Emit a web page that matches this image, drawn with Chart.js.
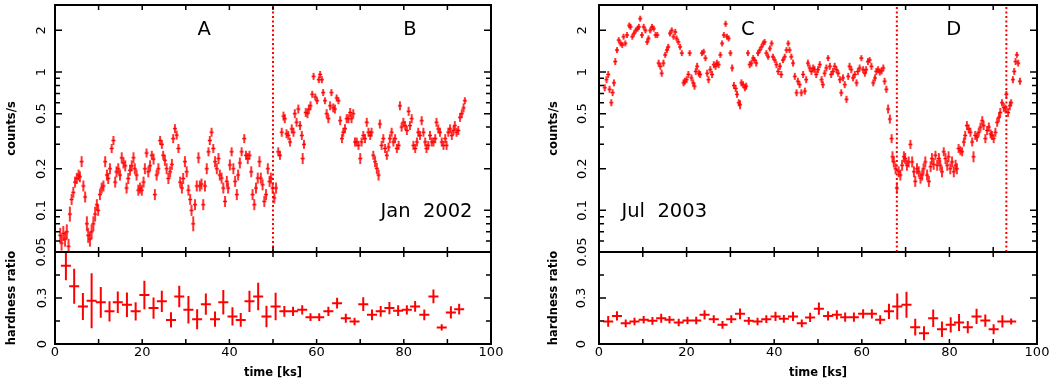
<!DOCTYPE html>
<html>
<head>
<meta charset="utf-8">
<script src="https://cdn.jsdelivr.net/npm/chart.js@4.4.0/dist/chart.umd.min.js"></script>
<style>
  body { margin: 0; background: #fff; }
  #wrap { position: relative; width: 1049px; height: 380px; overflow: hidden; background: #fff; }
  canvas { position: absolute; }
</style>
</head>
<body>
<div id="wrap">
  <canvas id="janTop" width="511" height="270" style="left:0;top:0"></canvas>
  <canvas id="janHr" width="511" height="140" style="left:0;top:240px"></canvas>
  <canvas id="julTop" width="517" height="270" style="left:540px;top:0"></canvas>
  <canvas id="julHr" width="517" height="140" style="left:540px;top:240px"></canvas>
</div>
<script>
// ---- data ----
const janTime = [1.2,1.5,1.9,2.3,2.7,3.1,3.4,3.8,4.2,4.6,5.0,5.4,5.7,6.1,6.5,6.9,7.3,7.6,8.0,8.4,8.8,9.2,9.6,9.9,
  10.3,10.7,11.1,11.5,11.9,12.2,12.6,13.0,13.4,13.8,14.1,14.5,14.9,15.3,15.7,16.1,16.4,16.8,17.2,17.6,18.0,18.3,18.7,
  19.1,19.5,19.9,20.3,20.6,21.0,21.4,21.8,22.2,22.6,22.9,23.3,23.7,24.1,24.5,24.8,25.2,25.6,26.0,26.4,26.8,27.1,27.5,
  27.9,28.3,28.7,29.1,29.4,29.8,30.2,30.6,31.0,31.3,31.7,32.1,32.5,32.9,33.2,33.6,34.0,34.4,34.8,35.2,35.5,35.9,36.3,
  36.7,37.1,37.5,37.8,38.2,38.6,39.0,39.4,39.7,40.1,40.5,40.9,41.3,41.7,42.0,42.4,42.8,43.4,43.8,44.2,44.6,45.0,45.3,
  45.7,46.1,46.5,46.9,47.2,47.6,48.0,48.4,48.8,49.2,49.5,49.9,50.3,50.7,51.2,51.6,52.0,52.4,52.7,53.1,53.5,53.9,54.3,
  54.7,55.0,55.4,55.8,56.2,56.6,56.8,57.1,57.5,57.9,58.2,58.6,59.0,59.3,59.7,60.1,60.5,60.8,61.2,61.5,61.9,62.3,62.7,
  63.1,63.4,63.8,64.2,64.6,65.0,65.4,65.8,66.1,66.5,66.9,67.3,67.7,68.0,68.4,68.8,69.2,69.6,70.0,70.3,70.7,71.1,71.5,
  71.9,72.3,72.6,73.0,73.4,73.8,74.2,74.5,74.9,75.3,75.7,76.1,76.5,76.8,77.2,77.6,78.0,78.4,78.8,79.1,79.5,79.9,80.3,
  80.7,81.1,81.4,81.8,82.2,82.6,83.0,83.3,83.7,84.1,84.5,84.9,85.2,85.6,86.0,86.4,86.8,87.2,87.5,87.9,88.3,88.7,89.1,
  89.5,89.8,90.2,90.6,91.0,91.4,91.7,92.1,92.5,92.9,93.3,93.7,94.0];
const janRate = [0.066,0.058,0.068,0.062,0.07,0.055,0.094,0.12,0.135,0.16,0.17,0.18,0.175,0.225,0.15,0.125,0.08,0.066,0.062,0.07,0.08,0.094,0.11,0.1,
  0.13,0.145,0.15,0.225,0.18,0.17,0.2,0.28,0.32,0.16,0.19,0.2,0.18,0.24,0.22,0.21,0.145,0.17,0.195,0.21,0.24,0.2,0.18,
  0.14,0.145,0.14,0.16,0.2,0.26,0.19,0.21,0.25,0.235,0.13,0.18,0.2,0.32,0.3,0.25,0.23,0.2,0.17,0.19,0.215,0.33,0.39,
  0.35,0.28,0.16,0.145,0.17,0.225,0.19,0.14,0.12,0.1,0.08,0.11,0.15,0.24,0.15,0.155,0.11,0.15,0.2,0.265,0.32,0.367,0.28,
  0.225,0.2,0.237,0.18,0.171,0.145,0.116,0.162,0.145,0.213,0.265,0.2,0.162,0.13,0.18,0.22,0.265,0.33,0.25,0.237,0.25,0.19,0.13,
  0.11,0.145,0.171,0.225,0.171,0.153,0.116,0.13,0.2,0.162,0.171,0.145,0.123,0.145,0.265,0.25,0.367,0.48,0.46,0.358,0.348,0.312,0.388,
  0.367,0.5,0.433,0.54,0.41,0.348,0.237,0.3,0.51,0.5,0.54,0.57,0.69,0.93,0.66,0.62,0.88,0.96,0.88,0.71,0.62,0.5,0.46,
  0.57,0.71,0.55,0.54,0.65,0.62,0.445,0.33,0.367,0.39,0.46,0.46,0.51,0.46,0.5,0.312,0.312,0.295,0.237,0.312,0.348,0.33,0.433,
  0.367,0.348,0.367,0.25,0.225,0.201,0.18,0.421,0.295,0.33,0.28,0.25,0.287,0.33,0.367,0.312,0.33,0.28,0.295,0.57,0.4,0.433,0.41,
  0.378,0.52,0.41,0.46,0.295,0.28,0.312,0.367,0.348,0.445,0.367,0.312,0.28,0.295,0.348,0.312,0.312,0.33,0.433,0.388,0.367,0.312,0.295,
  0.33,0.295,0.367,0.388,0.348,0.378,0.41,0.367,0.378,0.47,0.5,0.55,0.62];

const julTime = [1.3,1.7,2.1,2.4,2.8,3.1,3.4,3.7,4.1,4.5,4.9,5.3,5.6,6.0,6.4,6.9,7.2,7.6,8.0,8.4,8.8,9.1,9.4,9.8,
  10.2,10.6,11.0,11.3,11.7,12.1,12.5,12.9,13.3,13.6,14.0,14.3,14.7,15.1,15.5,15.8,16.2,16.6,17.0,17.4,17.7,18.1,18.5,
  18.9,19.3,19.6,20.0,20.4,20.7,21.1,21.5,21.8,22.1,22.4,22.8,23.1,23.5,23.9,24.3,24.7,25.0,25.4,25.8,26.2,26.6,26.9,
  27.3,27.7,28.1,28.5,28.9,29.2,29.6,30.0,30.4,30.8,31.2,31.5,31.9,32.2,32.5,32.9,33.3,33.6,34.0,34.4,34.8,35.2,35.5,
  35.9,36.3,36.7,37.1,37.5,37.8,38.2,38.6,39.0,39.4,39.7,40.1,40.5,40.9,41.3,41.6,42.0,42.4,42.8,43.2,43.5,43.9,44.3,
  44.7,45.1,45.4,45.8,46.2,46.6,47.0,47.3,47.7,48.1,48.5,48.9,49.2,49.6,50.0,50.4,50.8,51.1,51.5,51.9,52.3,52.7,53.0,
  53.4,53.8,54.2,54.6,55.0,55.3,55.7,56.1,56.5,56.9,57.2,57.6,58.0,58.4,58.8,59.1,59.5,59.9,60.3,60.7,61.0,61.4,61.8,
  62.2,62.6,63.0,63.3,63.7,64.1,64.5,64.9,65.2,65.6,66.0,66.4,66.8,67.0,67.3,67.7,68.0,68.4,68.8,69.2,69.6,69.9,70.3,
  70.7,71.1,71.5,71.9,72.2,72.6,73.0,73.4,73.8,74.1,74.5,74.9,75.3,75.7,76.0,76.4,76.8,77.2,77.6,77.9,78.3,78.7,79.1,
  79.5,79.8,80.2,80.6,81.0,81.4,81.7,82.1,82.5,82.9,83.3,83.6,84.0,84.4,84.8,85.2,85.5,85.9,86.3,86.7,87.1,87.5,87.8,
  88.2,88.6,89.0,89.4,89.7,90.1,90.5,90.9,91.3,91.6,92.0,92.4,92.8,93.0,93.4,93.8,94.1,94.5,94.8,95.1,95.4,95.7,96.1];
const julRate = [0.77,0.88,0.96,0.75,0.6,0.71,0.835,1.19,1.44,1.7,1.61,1.57,1.8,1.61,1.85,2.17,2.12,1.8,1.9,2.0,2.06,2.12,2.43,1.85,
  2.12,2.0,1.65,1.75,2.0,2.12,2.06,1.85,1.85,1.16,1.1,0.98,1.16,1.33,1.44,1.52,1.9,2.0,1.8,1.95,1.75,1.65,1.52,
  1.37,0.835,0.858,0.88,0.96,1.37,0.906,0.835,0.79,1.01,1.1,0.98,0.96,1.37,1.4,1.26,0.98,0.88,1.04,0.96,1.13,1.1,1.16,
  1.13,1.33,1.61,1.85,2.23,1.8,1.75,1.37,1.07,0.8,0.76,0.69,0.6,0.58,0.835,0.81,0.77,0.79,1.37,1.13,1.16,1.26,1.22,
  1.16,1.37,1.44,1.52,1.61,1.65,1.37,1.29,1.48,1.61,1.29,1.22,1.13,1.01,1.1,0.96,1.22,1.29,1.44,1.61,1.44,1.29,1.16,
  0.93,0.708,0.858,0.81,0.708,0.96,0.728,0.88,1.16,1.07,1.01,1.07,1.04,0.96,1.04,1.13,0.88,0.81,0.98,1.07,1.26,1.1,0.96,
  1.01,1.1,1.04,0.98,0.88,0.708,0.906,0.81,0.635,0.93,1.1,1.04,0.906,0.96,0.835,1.01,1.07,1.26,1.04,0.98,1.04,1.19,1.22,
  1.1,0.835,0.906,1.01,1.04,1.0,1.02,1.07,0.858,0.75,0.54,0.457,0.33,0.244,0.224,0.2,0.145,0.19,0.18,0.212,0.244,0.237,0.212,
  0.224,0.3,0.224,0.19,0.162,0.2,0.19,0.171,0.18,0.2,0.224,0.18,0.162,0.207,0.237,0.215,0.25,0.212,0.237,0.212,0.19,0.265,0.237,
  0.212,0.244,0.2,0.224,0.19,0.212,0.2,0.28,0.27,0.265,0.312,0.348,0.41,0.388,0.367,0.312,0.244,0.348,0.338,0.367,0.4,0.445,0.41,
  0.33,0.378,0.4,0.357,0.348,0.33,0.367,0.433,0.47,0.51,0.6,0.555,0.54,0.69,0.51,0.57,0.6,0.88,1.01,1.19,1.33,1.16,0.858];

const janHrTime = [2.5,4.4,6.4,8.4,10.5,12.5,14.4,16.5,18.5,20.5,22.6,24.5,26.6,28.5,30.6,32.6,34.6,36.7,38.6,40.7,42.6,44.6,46.6,
  48.5,50.6,52.6,54.6,56.7,58.6,60.6,62.7,64.7,66.7,68.7,70.7,72.7,74.7,76.7,78.7,80.7,82.6,84.7,86.8,88.7,90.8,92.7];
const janHr = [0.51,0.376,0.245,0.282,0.272,0.213,0.272,0.256,0.213,0.32,0.234,0.278,0.157,0.31,0.223,0.162,0.26,0.162,0.272,0.18,0.157,0.278,0.31,
  0.18,0.245,0.213,0.213,0.223,0.175,0.175,0.213,0.266,0.168,0.147,0.26,0.19,0.213,0.234,0.217,0.223,0.245,0.19,0.31,0.108,0.206,0.227];
const janHrErr = [0.095,0.114,0.088,0.18,0.1,0.066,0.07,0.08,0.06,0.093,0.07,0.07,0.05,0.07,0.09,0.065,0.07,0.05,0.08,0.06,0.045,0.07,0.09,
  0.07,0.09,0.035,0.03,0.03,0.025,0.025,0.03,0.035,0.03,0.025,0.045,0.035,0.035,0.04,0.035,0.03,0.035,0.035,0.045,0.02,0.04,0.035];

const julHrTime = [2.1,4.1,6.1,8.1,10.2,12.2,14.2,16.1,18.2,20.2,22.2,24.1,26.2,28.2,30.2,32.2,34.2,36.2,38.2,40.3,42.2,44.3,46.3,48.2,
  50.2,52.3,54.3,56.2,58.2,60.3,62.3,64.2,66.2,68.1,70.2,72.2,74.2,76.3,78.3,80.3,82.2,84.2,86.2,88.2,90.1,92.1,94.1];
const julHr = [0.147,0.183,0.135,0.147,0.158,0.151,0.168,0.158,0.14,0.153,0.153,0.19,0.162,0.125,0.162,0.197,0.151,0.147,0.162,0.18,0.164,0.18,0.135,0.173,
  0.23,0.183,0.19,0.175,0.175,0.197,0.197,0.158,0.213,0.245,0.256,0.11,0.07,0.168,0.096,0.125,0.14,0.11,0.18,0.153,0.096,0.147,0.147];
const julHrErr = [0.035,0.03,0.025,0.025,0.025,0.025,0.03,0.025,0.025,0.025,0.025,0.03,0.025,0.025,0.025,0.035,0.025,0.025,0.025,0.03,0.025,0.03,0.025,0.03,
  0.04,0.03,0.03,0.03,0.03,0.03,0.03,0.03,0.05,0.085,0.085,0.055,0.045,0.057,0.05,0.05,0.055,0.04,0.05,0.04,0.033,0.04,0.02];
const hrHalfBin = 1.15;

const janCuts = [50];
const julCuts = [68, 93];

const logTickLabels = [0.05, 0.1, 0.2, 0.5, 1, 2];
const logMinorTicks = [0.06, 0.07, 0.08, 0.09, 0.3, 0.4, 0.6, 0.7, 0.8, 0.9];
const hrTickLabels = [0, 0.3];
const hrMinorTicks = [0.15, 0.45, 0.6];
const xTickLabels = [0, 20, 40, 60, 80, 100];
const xTickMarks = [0, 10, 20, 30, 40, 50, 60, 70, 80, 90, 100];

const janNotes = [{text: 'A', x: 34.2, y: 2.0}, {text: 'B', x: 81.4, y: 2.0}, {text: 'Jan  2002', x: 85.2, y: 0.098}];
const julNotes = [{text: 'C', x: 34.0, y: 2.0}, {text: 'D', x: 81.0, y: 2.0}, {text: 'Jul  2003', x: 14.9, y: 0.098}];

// ---- drawing ----
const RED = '#ff0000';
Chart.defaults.font.family = "'DejaVu Sans', sans-serif";
Chart.defaults.color = '#000';

function makeMarker(h, w) {
    const c = document.createElement('canvas');
    c.width = w + 2;
    c.height = h + 2;
    const g = c.getContext('2d');
    g.strokeStyle = RED;
    g.lineWidth = 1.6;
    g.beginPath();
    g.moveTo(c.width / 2, 1);
    g.lineTo(c.width / 2, h + 1);
    g.moveTo(1, c.height / 2);
    g.lineTo(w + 1, c.height / 2);
    g.stroke();
    return c;
}
const mk15 = makeMarker(15, 4), mk11 = makeMarker(11, 4), mk9 = makeMarker(9, 4), mk7 = makeMarker(7, 4), mk6 = makeMarker(6, 4);

function markerFor(v) {
    if (v < 0.1) return mk15;
    if (v < 0.25) return mk11;
    if (v < 0.6) return mk9;
    if (v < 1.2) return mk7;
    return mk6;
}

function framePlugin(yMajor, yMinor) {
    return {
        id: 'frame',
        afterDatasetsDraw(chart) {
            const {ctx, chartArea: a, scales} = chart;
            const xs = scales.x, ys = scales.y;
            ctx.save();
            ctx.strokeStyle = '#000';
            ctx.lineWidth = 1.5;
            ctx.beginPath();
            xTickMarks.forEach(v => {
                const px = xs.getPixelForValue(v);
                ctx.moveTo(px, a.bottom); ctx.lineTo(px, a.bottom - 5);
                ctx.moveTo(px, a.top); ctx.lineTo(px, a.top + 5);
            });
            yMajor.forEach(v => {
                const py = ys.getPixelForValue(v);
                ctx.moveTo(a.left, py); ctx.lineTo(a.left + 7, py);
                ctx.moveTo(a.right, py); ctx.lineTo(a.right - 7, py);
            });
            yMinor.forEach(v => {
                const py = ys.getPixelForValue(v);
                ctx.moveTo(a.left, py); ctx.lineTo(a.left + 5, py);
                ctx.moveTo(a.right, py); ctx.lineTo(a.right - 5, py);
            });
            ctx.stroke();
            ctx.lineWidth = 2;
            ctx.strokeRect(a.left, a.top, a.right - a.left, a.bottom - a.top);
            ctx.restore();
        }
    };
}

function notesPlugin(notes) {
    return {
        id: 'notes',
        afterDatasetsDraw(chart) {
            const {ctx, scales} = chart;
            ctx.save();
            ctx.fillStyle = '#000';
            ctx.font = "19.5px 'DejaVu Sans'";
            ctx.textAlign = 'center';
            ctx.textBaseline = 'middle';
            notes.forEach(n => {
                ctx.fillText(n.text, scales.x.getPixelForValue(n.x), scales.y.getPixelForValue(n.y));
            });
            ctx.restore();
        }
    };
}

function errorPlugin(time, val, err) {
    return {
        id: 'errbars',
        afterDatasetsDraw(chart) {
            const {ctx, chartArea: a, scales} = chart;
            const xs = scales.x, ys = scales.y;
            ctx.save();
            ctx.beginPath();
            ctx.rect(a.left, a.top, a.right - a.left, a.bottom - a.top);
            ctx.clip();
            ctx.strokeStyle = RED;
            ctx.lineWidth = 2;
            ctx.beginPath();
            time.forEach((t, i) => {
                const px = xs.getPixelForValue(t);
                const py = ys.getPixelForValue(val[i]);
                ctx.moveTo(px, ys.getPixelForValue(val[i] - err[i]));
                ctx.lineTo(px, ys.getPixelForValue(val[i] + err[i]));
                ctx.moveTo(xs.getPixelForValue(t - hrHalfBin), py);
                ctx.lineTo(xs.getPixelForValue(t + hrHalfBin), py);
            });
            ctx.stroke();
            ctx.restore();
        }
    };
}

function topChart(id, time, rate, cuts, notes, yWidth, titlePad, tickPad) {
    const datasets = [{
        data: time.map((t, i) => ({x: t, y: rate[i]})),
        pointStyle: c => (c.raw ? markerFor(c.raw.y) : 'circle'),
        pointRadius: 3,
        showLine: false,
        clip: 0
    }];
    cuts.forEach(c => {
        datasets.push({
            data: [{x: c, y: 0.05}, {x: c, y: 3.05}],
            showLine: true,
            borderColor: RED,
            borderWidth: 2,
            borderDash: [2, 2.5],
            pointRadius: 0,
            clip: 0
        });
    });
    return new Chart(document.getElementById(id), {
        type: 'scatter',
        data: {datasets: datasets},
        options: {
            responsive: false,
            animation: false,
            events: [],
            layout: {padding: {left: 0, right: 20, top: 1, bottom: 18}},
            plugins: {legend: {display: false}, tooltip: {enabled: false}},
            scales: {
                x: {type: 'linear', display: false, min: 0, max: 100},
                y: {
                    type: 'logarithmic', min: 0.05, max: 3.05,
                    grid: {display: false, drawTicks: false},
                    border: {display: false},
                    afterBuildTicks: s => { s.ticks = logTickLabels.map(v => ({value: v})); },
                    afterFit: s => { s.width = yWidth; s.paddingTop = 0; s.paddingBottom = 0; },
                    ticks: {
                        autoSkip: false, minRotation: 90, maxRotation: 90, crossAlign: 'center',
                        padding: tickPad, font: {size: 13}, callback: v => String(v)
                    },
                    title: {display: true, text: 'counts/s', font: {size: 11.5, weight: 'bold'}, padding: {top: titlePad, bottom: 0}}
                }
            }
        },
        plugins: [framePlugin(logTickLabels, logMinorTicks), notesPlugin(notes)]
    });
}

function hrChart(id, time, val, err, yWidth, titlePad, tickPad) {
    return new Chart(document.getElementById(id), {
        type: 'scatter',
        data: {datasets: [{data: time.map((t, i) => ({x: t, y: val[i]})), pointRadius: 0}]},
        options: {
            responsive: false,
            animation: false,
            events: [],
            layout: {padding: {left: 0, right: 20, top: 12, bottom: 0}},
            plugins: {legend: {display: false}, tooltip: {enabled: false}},
            scales: {
                x: {
                    type: 'linear', min: 0, max: 100,
                    grid: {display: false, drawTicks: false},
                    border: {display: false},
                    afterBuildTicks: s => { s.ticks = xTickLabels.map(v => ({value: v})); },
                    afterFit: s => { s.height = 36; s.paddingLeft = 0; s.paddingRight = 0; },
                    ticks: {autoSkip: false, maxRotation: 0, padding: 1, font: {size: 13}},
                    title: {display: true, text: 'time [ks]', font: {size: 11.5, weight: 'bold'}, padding: {top: 0, bottom: 0}}
                },
                y: {
                    type: 'linear', min: 0, max: 0.6,
                    grid: {display: false, drawTicks: false},
                    border: {display: false},
                    afterBuildTicks: s => { s.ticks = hrTickLabels.map(v => ({value: v})); },
                    afterFit: s => { s.width = yWidth; s.paddingTop = 0; s.paddingBottom = 0; },
                    ticks: {
                        autoSkip: false, minRotation: 90, maxRotation: 90, crossAlign: 'center',
                        padding: tickPad, font: {size: 13}, callback: v => String(v)
                    },
                    title: {display: true, text: 'hardness ratio', font: {size: 11.5, weight: 'bold'}, padding: {top: titlePad, bottom: 0}}
                }
            }
        },
        plugins: [errorPlugin(time, val, err), framePlugin(hrTickLabels, hrMinorTicks)]
    });
}

topChart('janTop', janTime, janRate, janCuts, janNotes, 55, 5, -1.5);
hrChart('janHr', janHrTime, janHr, janHrErr, 55, 5, 2.5);
topChart('julTop', julTime, julRate, julCuts, julNotes, 59, 7, 1.5);
hrChart('julHr', julHrTime, julHr, julHrErr, 59, 7, 7);
</script>
</body>
</html>
